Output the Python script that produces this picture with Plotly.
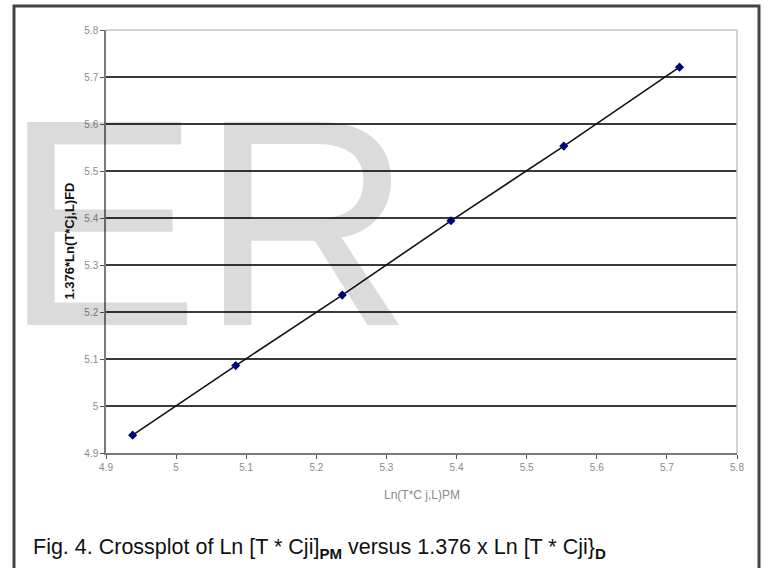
import plotly.graph_objects as go

# Data
x_pm = [4.938, 5.085, 5.237, 5.392, 5.553, 5.718]
y_fd = [4.938, 5.086, 5.236, 5.394, 5.553, 5.721]
tick_vals = [4.9, 5.0, 5.1, 5.2, 5.3, 5.4, 5.5, 5.6, 5.7, 5.8]
tick_text = ["4.9", "5", "5.1", "5.2", "5.3", "5.4", "5.5", "5.6", "5.7", "5.8"]

x_title = "Ln(T*C j,L)PM"
y_title = "1.376*Ln(T*Cj,L)FD"
caption = ("Fig. 4. Crossplot of Ln [T * Cji]<sub><b>PM</b></sub> versus "
           "1.376 x Ln [T * Cji}<sub><b>D</b></sub>")
watermark = "ER"

W, H = 768, 568
L, R, T, B = 106, 31, 30, 115
pw, ph = W - L - R, H - T - B

def px(xp):
    return (xp - L) / pw

def py(yp):
    return (H - B - yp) / ph

FONT = "Liberation Sans, Arial, sans-serif"

fig = go.Figure()
fig.add_trace(go.Scatter(
    x=x_pm, y=y_fd, mode="lines+markers",
    line=dict(color="#111111", width=1.6),
    marker=dict(symbol="diamond", size=7, color="#00007a"),
    showlegend=False, hoverinfo="x+y",
))

axis_common = dict(
    range=[4.9, 5.8], tickvals=tick_vals, ticktext=tick_text,
    tickfont=dict(family=FONT, size=10, color="#8a8a8a"),
    ticks="outside", ticklen=4, tickcolor="#555555", tickwidth=1,
    showline=True, linecolor="#7a7a7a", linewidth=1.5,
    zeroline=False, fixedrange=True,
)

fig.update_xaxes(**axis_common, showgrid=False)
fig.update_yaxes(**axis_common, showgrid=True, gridcolor="#3a3a3a", gridwidth=1.5)

shapes = [
    dict(type="line", xref="paper", yref="paper", x0=0, x1=1, y0=1, y1=1,
         line=dict(color="#c4c4c4", width=1.5)),
    dict(type="line", xref="paper", yref="paper", x0=1, x1=1, y0=0, y1=1,
         line=dict(color="#c4c4c4", width=1.5)),
    dict(type="rect", xref="paper", yref="paper",
         x0=px(14), x1=px(759), y0=py(6), y1=py(590),
         line=dict(color="#444444", width=3)),
]

annotations = [
    dict(text=watermark, xref="paper", yref="paper", x=px(1), y=py(223),
         xanchor="left", yanchor="middle", showarrow=False,
         font=dict(family=FONT, size=295, color="rgba(0,0,0,0.14)")),
    dict(text=y_title, xref="paper", yref="paper", x=px(69), y=0.5,
         xanchor="center", yanchor="middle", textangle=-90, showarrow=False,
         font=dict(family=FONT, size=13, color="#111111", weight="bold")),
    dict(text=x_title, xref="paper", yref="paper", x=0.5, y=py(495),
         xanchor="center", yanchor="middle", showarrow=False,
         font=dict(family=FONT, size=12, color="#8a8a8a")),
    dict(text=caption, xref="paper", yref="paper", x=px(31), y=py(548),
         xanchor="left", yanchor="middle", showarrow=False,
         font=dict(family=FONT, size=21.5, color="#111111")),
]

fig.update_layout(
    width=W, height=H,
    margin=dict(l=L, r=R, t=T, b=B),
    paper_bgcolor="white", plot_bgcolor="rgba(0,0,0,0)",
    shapes=shapes, annotations=annotations,
    font=dict(family=FONT),
)

fig.write_html("out.html", config={"displayModeBar": False},
               post_script="document.body.style.margin='0';")
